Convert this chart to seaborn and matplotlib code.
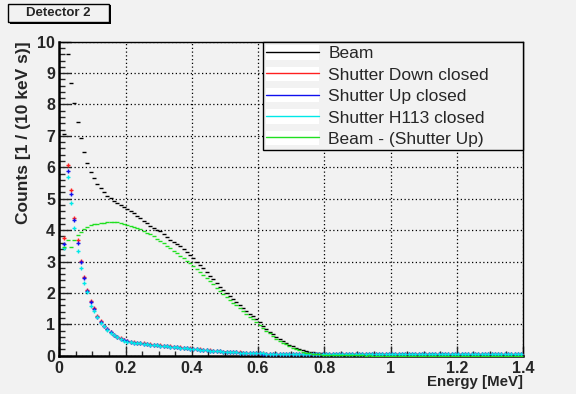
import numpy as np
import pandas as pd
import matplotlib
matplotlib.use("Agg")
import matplotlib.pyplot as plt
import seaborn as sns
from matplotlib.patches import Rectangle, Patch
from matplotlib.lines import Line2D
from matplotlib.legend_handler import HandlerTuple
from matplotlib.ticker import MultipleLocator, FuncFormatter

# ---------------- data (10 keV bins, 0 - 1.4 MeV) ----------------
bin_width = 0.01
n_bins = 140
energy = np.round(bin_width * (np.arange(n_bins) + 0.5), 4)

beam = [np.nan, 7.05, 9.61, 8.67, 8.06, 7.45, 6.92, 6.50, 6.15, 5.86,
        5.65, 5.47, 5.33, 5.20, 5.09, 5.01, 4.94, 4.86, 4.80, 4.73,
        4.68, 4.62, 4.54, 4.46, 4.37, 4.30, 4.22, 4.13, 4.07, 4.01,
        3.96, 3.87, 3.78, 3.70, 3.63, 3.57, 3.49, 3.40, 3.31, 3.20,
        3.10, 2.99, 2.89, 2.78, 2.66, 2.55, 2.43, 2.32, 2.20, 2.09,
        1.99, 1.89, 1.80, 1.71, 1.62, 1.53, 1.43, 1.33, 1.25, 1.16,
        1.06, 0.95, 0.86, 0.77, 0.68, 0.60, 0.53, 0.47, 0.41, 0.35,
        0.30, 0.26, 0.22, 0.18, 0.15, 0.13, 0.11, 0.10, 0.09, 0.08,
        0.07, 0.07, 0.06, 0.06, 0.06, 0.05, 0.05, 0.05, 0.05, 0.05,
        0.05, 0.05, 0.04, 0.05, 0.04, 0.04, 0.04, 0.04, 0.04, 0.04,
        0.04, 0.04, 0.04, 0.04, 0.04, 0.04, 0.04, 0.04, 0.04, 0.04,
        0.04, 0.04, 0.04, 0.04, 0.03, 0.04, 0.04, 0.03, 0.04, 0.03,
        0.03, 0.04, 0.03, 0.03, 0.03, 0.03, 0.04, 0.03, 0.03, 0.03,
        0.03, 0.03, 0.03, 0.03, 0.03, 0.03, 0.03, 0.03, 0.03, 0.03]

shutter_down = [np.nan, 3.75, 6.08, 5.27, 4.37, 3.67, 3.03, 2.52, 2.09, 1.75,
                1.52, 1.27, 1.10, 0.96, 0.85, 0.75, 0.67, 0.61, 0.55, 0.51,
                0.48, 0.45, 0.43, 0.41, 0.40, 0.39, 0.37, 0.36, 0.35, 0.34,
                0.33, 0.32, 0.31, 0.30, 0.29, 0.28, 0.27, 0.25, 0.24, 0.23,
                0.22, 0.21, 0.20, 0.19, 0.18, 0.17, 0.16, 0.15, 0.14, 0.13,
                0.13, 0.12, 0.12, 0.11, 0.11, 0.10, 0.10, 0.09, 0.09, 0.08,
                0.08, 0.08, 0.07, 0.07, 0.07, 0.06, 0.06, 0.06, 0.06, 0.05,
                0.05, 0.05, 0.05, 0.05, 0.05, 0.05, 0.05, 0.05, 0.05, 0.05,
                0.05, 0.05, 0.05, 0.05, 0.05, 0.05, 0.05, 0.05, 0.04, 0.05,
                0.04, 0.05, 0.04, 0.04, 0.05, 0.04, 0.04, 0.04, 0.04, 0.04,
                0.04, 0.04, 0.04, 0.04, 0.04, 0.04, 0.04, 0.04, 0.04, 0.04,
                0.04, 0.04, 0.04, 0.04, 0.04, 0.04, 0.04, 0.04, 0.04, 0.04,
                0.04, 0.04, 0.04, 0.04, 0.04, 0.04, 0.04, 0.04, 0.04, 0.04,
                0.04, 0.04, 0.04, 0.04, 0.04, 0.04, 0.04, 0.04, 0.04, 0.04]

shutter_up = [np.nan, 3.56, 5.89, 5.16, 4.31, 3.59, 2.97, 2.46, 2.07, 1.72,
              1.48, 1.24, 1.08, 0.95, 0.84, 0.74, 0.66, 0.60, 0.54, 0.50,
              0.47, 0.44, 0.42, 0.41, 0.40, 0.38, 0.37, 0.35, 0.34, 0.33,
              0.32, 0.31, 0.30, 0.29, 0.28, 0.27, 0.26, 0.24, 0.23, 0.22,
              0.21, 0.20, 0.19, 0.18, 0.17, 0.16, 0.15, 0.14, 0.14, 0.13,
              0.12, 0.12, 0.11, 0.11, 0.10, 0.10, 0.09, 0.09, 0.08, 0.08,
              0.08, 0.07, 0.07, 0.07, 0.06, 0.06, 0.06, 0.06, 0.05, 0.05,
              0.05, 0.05, 0.05, 0.05, 0.05, 0.05, 0.05, 0.05, 0.05, 0.05,
              0.05, 0.05, 0.05, 0.04, 0.05, 0.05, 0.04, 0.05, 0.04, 0.04,
              0.04, 0.04, 0.04, 0.04, 0.04, 0.04, 0.04, 0.04, 0.04, 0.04,
              0.04, 0.04, 0.04, 0.04, 0.04, 0.04, 0.04, 0.04, 0.04, 0.04,
              0.04, 0.04, 0.04, 0.04, 0.04, 0.04, 0.04, 0.04, 0.04, 0.04,
              0.04, 0.04, 0.04, 0.04, 0.04, 0.04, 0.04, 0.04, 0.04, 0.04,
              0.04, 0.04, 0.04, 0.04, 0.04, 0.04, 0.04, 0.04, 0.04, 0.04]

shutter_h113 = [np.nan, 3.42, 5.69, 4.86, 4.07, 3.33, 2.80, 2.31, 2.03, 1.58,
                1.42, 1.23, 1.05, 0.93, 0.82, 0.72, 0.65, 0.58, 0.52, 0.48,
                0.45, 0.43, 0.41, 0.40, 0.39, 0.38, 0.36, 0.35, 0.34, 0.33,
                0.32, 0.31, 0.30, 0.29, 0.28, 0.27, 0.26, 0.24, 0.23, 0.22,
                0.21, 0.20, 0.19, 0.18, 0.17, 0.16, 0.15, 0.14, 0.14, 0.13,
                0.12, 0.12, 0.11, 0.11, 0.10, 0.10, 0.09, 0.09, 0.09, 0.08,
                0.08, 0.08, 0.07, 0.07, 0.07, 0.06, 0.06, 0.06, 0.06, 0.06,
                0.06, 0.05, 0.05, 0.05, 0.05, 0.05, 0.05, 0.05, 0.05, 0.05,
                0.05, 0.05, 0.05, 0.05, 0.05, 0.05, 0.05, 0.05, 0.05, 0.05,
                0.05, 0.05, 0.05, 0.05, 0.05, 0.05, 0.05, 0.05, 0.05, 0.05,
                0.05, 0.05, 0.05, 0.05, 0.05, 0.05, 0.05, 0.05, 0.05, 0.05,
                0.05, 0.05, 0.05, 0.05, 0.05, 0.05, 0.05, 0.05, 0.05, 0.05,
                0.05, 0.05, 0.05, 0.05, 0.05, 0.05, 0.05, 0.05, 0.05, 0.05,
                0.05, 0.05, 0.05, 0.05, 0.05, 0.05, 0.05, 0.05, 0.05, 0.05]

beam_minus_up = [np.nan, 3.45, 3.68, 3.45, 3.70, 3.85, 3.95, 4.05, 4.10, 4.15,
                 4.18, 4.21, 4.23, 4.24, 4.25, 4.26, 4.26, 4.25, 4.23, 4.20,
                 4.17, 4.14, 4.11, 4.06, 4.02, 3.97, 3.92, 3.87, 3.80, 3.73,
                 3.66, 3.58, 3.50, 3.43, 3.35, 3.27, 3.19, 3.10, 3.03, 2.94,
                 2.85, 2.76, 2.67, 2.58, 2.48, 2.38, 2.27, 2.17, 2.07, 1.96,
                 1.87, 1.77, 1.69, 1.60, 1.52, 1.43, 1.34, 1.24, 1.16, 1.08,
                 0.99, 0.88, 0.80, 0.71, 0.62, 0.54, 0.47, 0.42, 0.36, 0.30,
                 0.25, 0.21, 0.17, 0.13, 0.10, 0.08, 0.06, 0.05, 0.04, 0.03,
                 0.02, 0.02, 0.01, 0.02, 0.01, 0.01, 0.01, 0.01, 0.01, 0.01,
                 0.01, 0.01, 0.00, 0.01, 0.00, 0.00, 0.00, 0.00, 0.00, 0.00,
                 0.00, 0.00, 0.00, 0.00, 0.00, 0.00, 0.00, 0.00, 0.00, 0.00,
                 0.00, 0.00, 0.00, 0.00, 0.00, 0.00, 0.00, 0.00, 0.00, 0.00,
                 0.00, 0.00, 0.00, 0.00, 0.00, 0.00, 0.00, 0.00, 0.00, 0.00,
                 0.00, 0.00, 0.00, 0.00, 0.00, 0.00, 0.00, 0.00, 0.00, 0.00]

series_names = ["Beam", "Shutter Down closed", "Shutter Up closed",
                "Shutter H113 closed", "Beam - (Shutter Up)"]
series_values = [beam, shutter_down, shutter_up, shutter_h113, beam_minus_up]
series_colors = ["#000000", "#ff2020", "#1010ee", "#00e8e8", "#20e020"]
series_markers = ["_", "+", "+", "+", "_"]

# ---------------- style ----------------
BG = "#f2f2f2"
sns.set_style("ticks")
plt.rcParams["font.family"] = ["Liberation Sans", "DejaVu Sans"]

fig = plt.figure(figsize=(5.76, 3.94), dpi=100, facecolor=BG)
ax = fig.add_axes([59.3 / 576, 1 - 355.7 / 394, (523 - 59.3) / 576, (355.7 - 41.7) / 394])
ax.set_facecolor(BG)

for name, vals, col, mk in zip(series_names, series_values, series_colors, series_markers):
    df = pd.DataFrame({"Energy": energy, "Counts": vals}).dropna()
    sns.scatterplot(data=df, x="Energy", y="Counts", ax=ax, color=col,
                    marker=mk, s=10 if mk == "_" else 9, linewidth=1.0,
                    legend=False, zorder=3)

ax.set_xlim(0, 1.4)
ax.set_ylim(0, 10)
ax.xaxis.set_major_locator(MultipleLocator(0.2))
ax.xaxis.set_minor_locator(MultipleLocator(0.05))
ax.yaxis.set_major_locator(MultipleLocator(1))
ax.yaxis.set_minor_locator(MultipleLocator(0.2))
ax.xaxis.set_major_formatter(FuncFormatter(lambda v, p: f"{v:g}"))
ax.yaxis.set_major_formatter(FuncFormatter(lambda v, p: f"{v:g}"))

ax.tick_params(axis="x", which="major", direction="in", length=7.2, width=1, pad=4,
               labelsize=11.5)
ax.tick_params(axis="x", which="minor", direction="in", length=3.6, width=1)
ax.tick_params(axis="y", which="major", direction="in", length=8.6, width=1, pad=3,
               labelsize=11.5)
ax.tick_params(axis="y", which="minor", direction="in", length=4.3, width=1)
for lab in ax.get_xticklabels() + ax.get_yticklabels():
    lab.set_fontweight("bold")

ax.grid(True, which="major", linestyle=(0, (1, 2)), color="black", linewidth=0.9)
ax.set_axisbelow(True)

for side in ["left", "bottom"]:
    ax.spines[side].set_linewidth(1.8)
for side in ["top", "right"]:
    ax.spines[side].set_linewidth(1.0)
    ax.spines[side].set_visible(True)
for sp in ax.spines.values():
    sp.set_color("black")

ax.set_xlabel("Energy [MeV]", loc="right", fontweight="bold", fontsize=10.8)
ax.xaxis.set_label_coords(1.0, -0.062)
ax.set_ylabel("Counts [1 / (10 keV s)]", loc="top", fontweight="bold", fontsize=12.5)
ax.yaxis.set_label_coords(-0.060, 1.0)

# legend
handles = [(Patch(facecolor="white", edgecolor="none"), Line2D([], [], color=c, lw=1.0))
           for c in series_colors]
x0 = (263 - 59.3) / (523 - 59.3)
leg = ax.legend(handles, series_names, handler_map={tuple: HandlerTuple(ndivide=1)},
                loc="upper left", bbox_to_anchor=(x0, 0, 1 - x0, 1.0), mode="expand",
                borderaxespad=0, fontsize=12.5, frameon=True, fancybox=False,
                facecolor=BG, edgecolor="black", framealpha=1,
                handlelength=3.0, handleheight=0.9, handletextpad=0.57,
                labelspacing=0.3, borderpad=0.2)
leg.get_frame().set_linewidth(1.0)
leg.set_zorder(5)

# title box
fig.patches.append(Rectangle((10 / 576, 1 - 24 / 394), 101 / 576, 19 / 394,
                             transform=fig.transFigure, facecolor="black",
                             edgecolor="none", zorder=1))
fig.patches.append(Rectangle((8 / 576, 1 - 22 / 394), 101 / 576, 18 / 394,
                             transform=fig.transFigure, facecolor=BG,
                             edgecolor="black", linewidth=1.0, zorder=2))
fig.text(58 / 576, 1 - 13 / 394, "Detector 2", ha="center", va="center",
         fontsize=9.5, fontweight="bold", zorder=3)

fig.savefig("out.png", dpi=100, facecolor=BG)
